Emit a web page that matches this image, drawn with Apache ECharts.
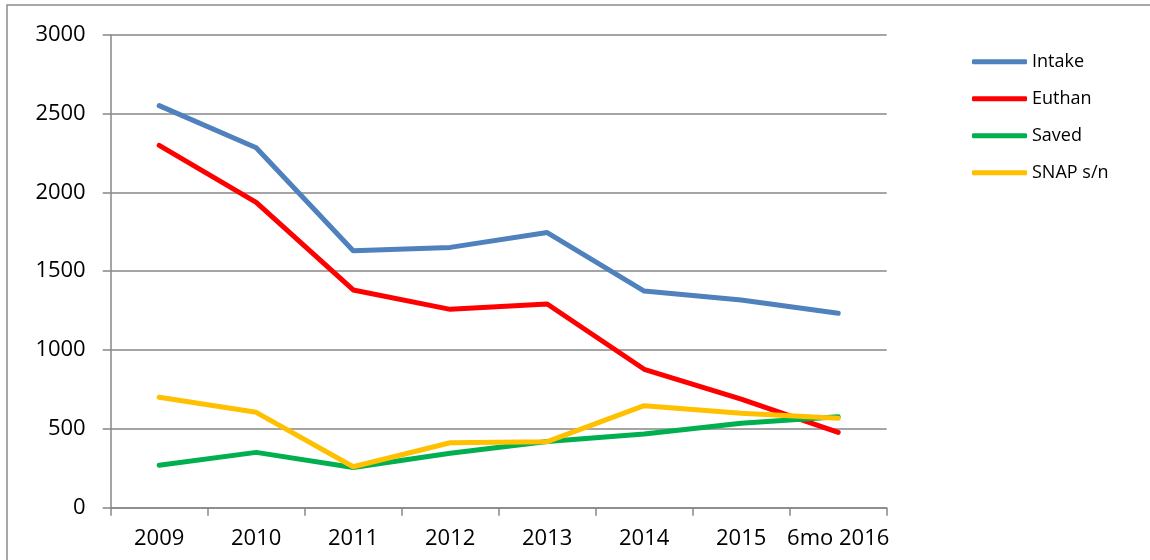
<!DOCTYPE html>
<html>
<head>
<meta charset="utf-8">
<script src="https://cdn.jsdelivr.net/npm/echarts@6/dist/echarts.min.js"></script>
<style>
  html, body { margin: 0; padding: 0; background: #fff; }
  #chart { width: 1150px; height: 560px; }
</style>
</head>
<body>
<div id="chart"></div>
<script>
const categories = ['2009', '2010', '2011', '2012', '2013', '2014', '2015', '6mo 2016'];
const intake = [2550, 2283, 1630, 1651, 1745, 1374, 1317, 1233];
const euthan = [2298, 1937, 1381, 1258, 1292, 878, 689, 478];
const saved = [269, 351, 255, 345, 420, 467, 535, 577];
const snap = [700, 605, 260, 412, 419, 647, 599, 567];
const yTicks = [0, 500, 1000, 1500, 2000, 2500, 3000];

const FONT = '"Open Sans", "Noto Sans", sans-serif';
const GRAY = '#878787';

function lineSeries(name, data, color) {
  return {
    name: name,
    type: 'line',
    data: data,
    symbol: 'none',
    smooth: false,
    color: color,
    lineStyle: { width: 5, color: color, cap: 'round', join: 'round' }
  };
}

const chart = echarts.init(document.getElementById('chart'));
chart.setOption({
  animation: false,
  backgroundColor: '#ffffff',
  graphic: [{
    type: 'rect',
    shape: { x: 7, y: 5, width: 1200, height: 600 },
    style: { fill: 'none', stroke: '#8c8c8c', lineWidth: 1.5 },
    silent: true
  }],
  grid: { left: 110.7, right: 263.3, top: 34.7, bottom: 52.3 },
  legend: {
    orient: 'vertical',
    left: 972,
    top: 52.7,
    itemWidth: 55,
    itemHeight: 5,
    itemGap: 19,
    icon: 'roundRect',
    textStyle: { fontFamily: FONT, fontSize: 18, color: '#000' },
    itemTextGap: 4,
    padding: 0,
    data: ['Intake', 'Euthan', 'Saved', 'SNAP s/n']
  },
  xAxis: {
    type: 'category',
    data: categories,
    boundaryGap: true,
    axisLine: { show: true, lineStyle: { color: GRAY, width: 1.5 } },
    axisTick: { show: true, length: 8, inside: false, alignWithLabel: false, lineStyle: { color: GRAY, width: 1.5 } },
    axisLabel: { fontFamily: FONT, fontSize: 22, color: '#000', margin: 20, interval: 0 },
    splitLine: { show: false }
  },
  yAxis: {
    type: 'value',
    min: yTicks[0],
    max: yTicks[yTicks.length - 1],
    interval: 500,
    axisLine: { show: true, lineStyle: { color: GRAY, width: 1.5 } },
    axisTick: { show: true, length: 8, inside: false, lineStyle: { color: GRAY, width: 1.5 } },
    axisLabel: { fontFamily: FONT, fontSize: 22, color: '#000', margin: 25, formatter: function (v) { return String(v); } },
    splitLine: { show: true, lineStyle: { color: GRAY, width: 1.5 } }
  },
  series: [
    lineSeries('Intake', intake, '#4F81BD'),
    lineSeries('Euthan', euthan, '#FF0000'),
    lineSeries('Saved', saved, '#00B050'),
    lineSeries('SNAP s/n', snap, '#FFC000')
  ]
});
</script>
</body>
</html>
